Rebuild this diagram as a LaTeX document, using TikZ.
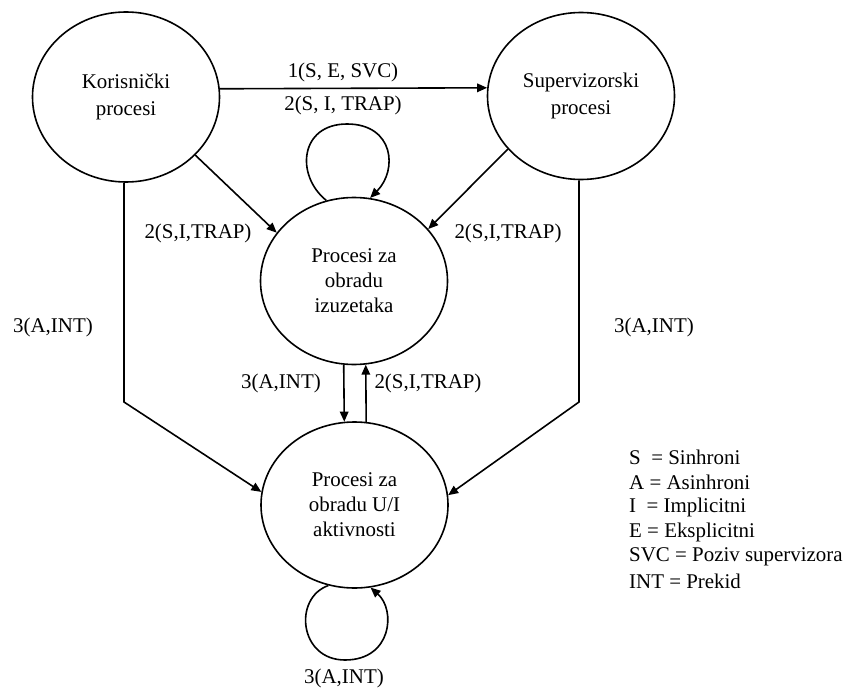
\documentclass[tikz,border=0pt]{standalone}
\usepackage{fontspec}
\setmainfont{Liberation Serif}
\usetikzlibrary{shapes.geometric,arrows.meta}
\begin{document}
\begin{tikzpicture}[x=1bp,y=-1bp,
  every node/.style={font=\fontsize{21}{25}\selectfont},
  proc/.style={draw,ellipse,line width=1.6bp,inner sep=0pt,
    minimum width=187bp,minimum height=167bp,align=center},
  lbl/.style={inner sep=0pt},
  leg/.style={inner sep=0pt,anchor=west},
  arr/.style={line width=1.6bp,-{Triangle[length=10bp,width=8.5bp]}}]
\useasboundingbox (0,0) rectangle (849,689);

% processes
\node[proc,minimum height=170bp] (kor) at (126,97) {Korisnički\\[2bp]procesi};
\node[proc] (sup) at (581,96) {Supervizorski\\[2bp]procesi};
\node[proc] (izu) at (354,281) {Procesi za\\obradu\\izuzetaka};
\node[proc,minimum height=166bp] (ui) at (354.5,505) {Procesi za\\obradu U/I\\aktivnosti};

% bend points of the long connectors
\coordinate (kbend) at (124,402);
\coordinate (sbend) at (579,402);

% connectors
\draw[arr] (kor.5.6) -- (sup.175);
\draw[arr] (kor.-40) -- (izu.148);
\draw[arr] (sup.216.5) -- (izu.35.7);
\draw[arr] (kbend |- kor.south) -- (kbend) -- (ui.172.6);
\draw[arr] (sbend |- sup.south) -- (sbend) -- (ui.6);
\draw[arr] (izu.-97) -- (ui.97.3);
\draw[arr] (ui.82.8) -- (izu.-82.5);

% self loops
\draw[arr] (izu.109) .. controls (295,175) and (300,124) .. (347,124)
  .. controls (394,124) and (398,170) .. (izu.79);
\draw[arr] (ui.-108.7) .. controls (293,598) and (299,660) .. (345,660)
  .. controls (392,660) and (396,610) .. (ui.-79.5);

% connector labels
\node[lbl] (l1) at (343,72) {1(S, E, SVC)};
\node[lbl] (l2) at (343,105) {2(S, I, TRAP)};
\node[lbl] (l3) at (198,233) {2(S,I,TRAP)};
\node[lbl] (l4) at (508,233) {2(S,I,TRAP)};
\node[lbl] (l5) at (53,327) {3(A,INT)};
\node[lbl] (l6) at (654,327) {3(A,INT)};
\node[lbl] (l7) at (281,383) {3(A,INT)};
\node[lbl] (l8) at (428,383) {2(S,I,TRAP)};
\node[lbl] (l9) at (344,678) {3(A,INT)};

% legend
\node[leg] (g1) at (629,457) {S\ \ = Sinhroni};
\node[leg] (g2) at (629,482) {A = Asinhroni};
\node[leg] (g3) at (629,507) {I\ \ = Implicitni};
\node[leg] (g4) at (629,532) {E = Eksplicitni};
\node[leg] (g5) at (629,557) {SVC = Poziv supervizora};
\node[leg] (g6) at (629,581) {INT = Prekid};
\end{tikzpicture}
\end{document}
